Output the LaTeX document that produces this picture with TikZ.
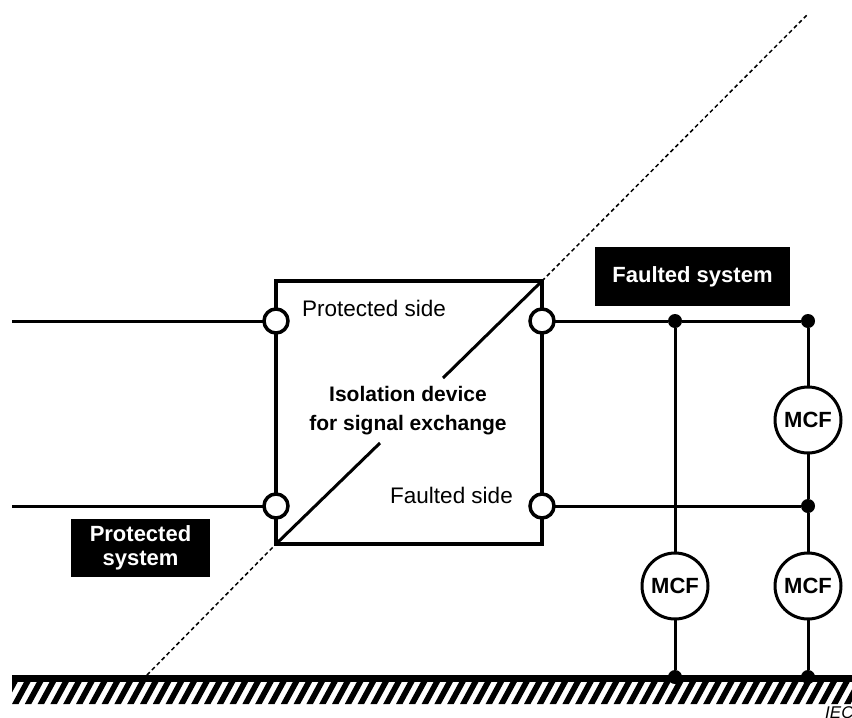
\documentclass[tikz,border=0pt]{standalone}
\usepackage{fontspec}
\setmainfont{Liberation Sans}
\begin{document}
\begin{tikzpicture}[x=1pt,y=-1pt,
  wire/.style={line width=3pt},
  term/.style={circle,draw,fill=white,line width=3.5pt,minimum size=24pt,inner sep=0pt,outer sep=0pt},
  jdot/.style={circle,fill=black,minimum size=14pt,inner sep=0pt,outer sep=0pt},
  mcf/.style={circle,draw,fill=white,line width=3pt,minimum size=66pt,inner sep=0pt,outer sep=0pt,font=\fontsize{22}{26}\selectfont\bfseries},
  lbl/.style={fill=black,text=white,font=\fontsize{22}{24}\selectfont\bfseries,align=center,inner sep=0pt},
  regtxt/.style={font=\fontsize{22.5}{26}\selectfont,inner sep=0pt},
  dashln/.style={line width=1.5pt,dash pattern=on 4pt off 3pt}
]
\useasboundingbox (0,0) rectangle (852,718);

% ground
\fill (12,675) rectangle (852,682);
\begin{scope}
  \clip (12,682) rectangle (852,704);
  \foreach \i in {-2,...,68} {
    \fill ({12+\i*12.8},704) -- ++(6.5,0) -- ++(12,-22) -- ++(-6.5,0) -- cycle;
  }
\end{scope}

% device box
\node[draw,line width=4.5pt,minimum width=266pt,minimum height=263pt,inner sep=0pt,outer sep=0pt] (box) at (409,412.5) {};

% coordinates
\coordinate (gd) at (147,675);
\coordinate (tp) at (808,14);
\coordinate (b1) at (380,443);
\coordinate (b2) at (443,378);
\coordinate (lw1) at (12,321);
\coordinate (lw2) at (12,506);

% diagonal
\draw[line width=3pt] (box.south west) -- (b1);
\draw[line width=3pt] (b2) -- (box.north east);
\draw[dashln] (gd) -- (box.south west);
\draw[dashln] (box.north east) -- (tp);

% terminals
\node[term] (t1) at (276,321) {};
\node[term] (t2) at (276,506) {};
\node[term] (t3) at (542,321) {};
\node[term] (t4) at (542,506) {};

% junctions and MCF
\node[jdot] (j1) at (675,321) {};
\node[jdot] (j2) at (808,321) {};
\node[jdot] (j3) at (808,506) {};
\node[jdot] (g1) at (675,677) {};
\node[jdot] (g2) at (808,677) {};
\node[mcf] (m1) at (808,420) {MCF};
\node[mcf] (m2) at (675,586) {MCF};
\node[mcf] (m3) at (808,586) {MCF};

% wires
\draw[wire] (lw1) -- (t1);
\draw[wire] (lw2) -- (t2);
\draw[wire] (t3) -- (j1);
\draw[wire] (j1) -- (j2);
\draw[wire] (t4) -- (j3);
\draw[wire] (j1) -- (m2);
\draw[wire] (m2) -- (g1);
\draw[wire] (j2) -- (m1);
\draw[wire] (m1) -- (j3);
\draw[wire] (j3) -- (m3);
\draw[wire] (m3) -- (g2);

% texts
\node[regtxt,anchor=west] (ps) at (302,308) {Protected side};
\node[regtxt,anchor=east] (fs) at (513,495) {Faulted side};
\node[align=center,font=\fontsize{21}{29}\selectfont\bfseries,inner sep=0pt] (iso) at (408,411) {Isolation device\\for signal exchange};

\node[lbl,minimum width=139pt,minimum height=58pt] (psys) at (140.5,548) {Protected\\system};
\node[lbl,minimum width=195pt,minimum height=59pt] (fsys) at (692.5,276.5) {Faulted system};

\node[anchor=north west,font=\fontsize{17}{17}\selectfont\itshape,inner sep=0pt] (iec) at (825,706) {IEC};
\end{tikzpicture}
\end{document}
